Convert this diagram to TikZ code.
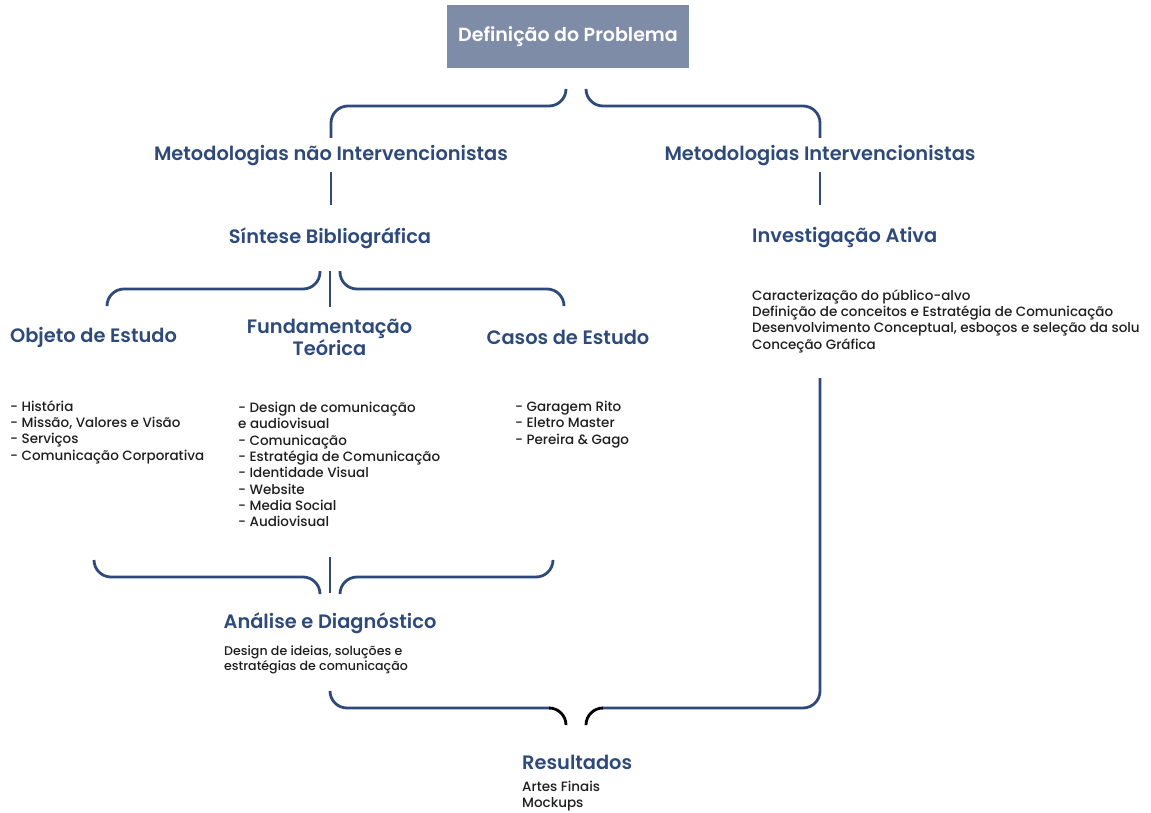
\documentclass[tikz,border=0pt]{standalone}
\usepackage{fontspec}
\setmainfont{Poppins}
\IfFontExistsTF{Poppins Medium}
  {\newfontfamily\bodyfont{Poppins Medium}}
  {\newfontfamily\bodyfont{Poppins}}
\IfFontExistsTF{Poppins SemiBold}
  {\newfontfamily\headfont{Poppins SemiBold}}
  {\newfontfamily\headfont{Poppins Bold}}
\usetikzlibrary{positioning}
\usetikzlibrary{calc}

\definecolor{navy}{HTML}{2E4A7B}
\definecolor{boxgray}{HTML}{7F8CA8}
\definecolor{ink}{HTML}{1E1E1E}

\tikzset{
  heading/.style={font=\fontsize{19.4}{22}\headfont, text=navy, inner sep=0pt, align=center},
  listing/.style={font=\fontsize{13.5}{16.3}\bodyfont, text=ink, inner sep=0pt, align=left, anchor=west},
  brace/.style={draw=navy, line width=2.8pt, rounded corners=17pt},
  bracetip/.style={brace, draw=black},
}

\begin{document}
\begin{tikzpicture}[x=1pt,y=-1pt]
  \useasboundingbox (0,0) rectangle (1151,813);

  % titulo
  \node[fill=boxgray, minimum width=242pt, minimum height=63pt, inner sep=0pt,
        text=white, font=\fontsize{19}{22}\headfont] (problema) at (568,36.5) {Definição do Problema};

  % metodologias
  \node[heading] (naoInterv) at (331,156) {Metodologias não Intervencionistas};
  \node[heading] (interv) at (820,156) {Metodologias Intervencionistas};
  \node[heading] (sintese) at (330,238) {Síntese Bibliográfica};
  \node[heading, anchor=west] (investigacao) at (752,238) {Investigação Ativa};

  \node[heading] (objeto) at (93.5,337) {Objeto de Estudo};
  \node[heading] (fundamentacao) at (329.5,337) {Fundamentação\\Teórica};
  \node[heading] (casos) at (568,337) {Casos de Estudo};

  \node[listing] (listaObjeto) at (10,432) {- História\\- Missão, Valores e Visão\\- Serviços\\- Comunicação Corporativa};
  \node[listing] (listaFund) at (238,464.5) {- Design de comunicação\\e audiovisual\\- Comunicação\\- Estratégia de Comunicação\\- Identidade Visual\\- Website\\- Media Social\\- Audiovisual};
  \node[listing] (listaCasos) at (515,424.5) {- Garagem Rito\\- Eletro Master\\- Pereira \& Gago};
  \node[listing] (listaInvest) at (752,321) {Caracterização do público-alvo\\Definição de conceitos e Estratégia de Comunicação\\Desenvolvimento Conceptual, esboços e seleção da solu\\Conceção Gráfica};

  \node[heading] (analise) at (330,623) {Análise e Diagnóstico};
  \node[listing, font=\fontsize{12.6}{15.5}\bodyfont] (listaAnalise) at (224,660) {Design de ideias, soluções e\\estratégias de comunicação};

  \node[heading, anchor=west] (resultados) at (522,762) {Resultados};
  \node[listing, font=\fontsize{13.5}{15.5}\bodyfont] (listaResult) at (522,796) {Artes Finais\\Mockups};

  % chaveta do topo
  \coordinate (tipA) at (566,89);
  \coordinate (tipB) at (586,89);
  \draw[brace] (tipA) |- (naoInterv.north |- 0,106) -- (naoInterv.north |- 0,138);
  \draw[brace] (tipB) |- (interv.north |- 0,106) -- (interv.north |- 0,138);
  \draw[brace] (naoInterv.south |- 0,172) -- (naoInterv.south |- 0,205);
  \draw[brace] (interv.south |- 0,172) -- (interv.south |- 0,205);

  % chaveta da sintese
  \coordinate (tipC) at (320,271);
  \coordinate (tipD) at (340,271);
  \draw[brace] (tipC) |- (107,289) -- (107,305);
  \draw[brace] (tipD) |- (564,289) -- (564,305);
  \draw[brace] (sintese.south |- 0,271) -- (sintese.south |- 0,307);

  % chaveta da analise
  \coordinate (endE) at (94,560);
  \coordinate (endF) at (553,560);
  \draw[brace] (endE) |- (320,577) -- (320,593);
  \draw[brace] (endF) |- (340,577) -- (340,593);
  \draw[brace] (analise.north |- 0,557) -- (analise.north |- 0,593);

  % chaveta dos resultados
  \coordinate (startG) at (330,692);
  \coordinate (startH) at (820,378);
  \draw[brace] (startG) |- (550,708);
  \draw[brace] (startH) |- (602,708);
  \draw[bracetip] (549,708) -| (566,724);
  \draw[bracetip] (603,708) -| (586,724);
\end{tikzpicture}
\end{document}
